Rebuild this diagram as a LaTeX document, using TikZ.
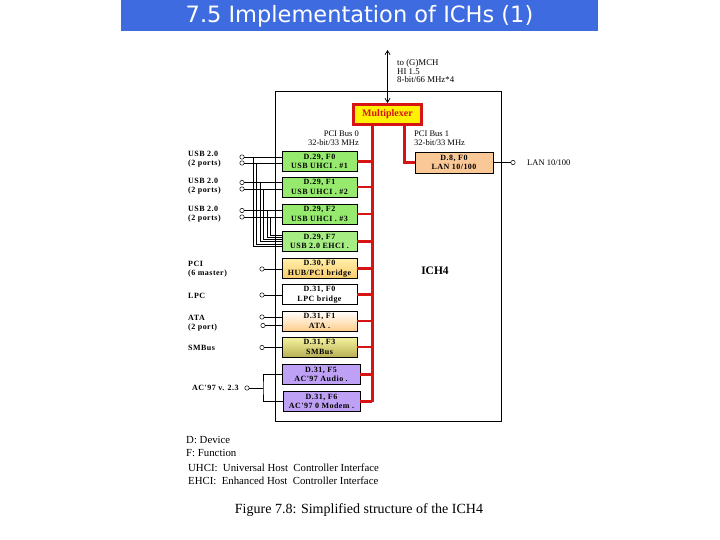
\documentclass[tikz,border=0pt]{standalone}
\usepackage{fontspec}
\setmainfont{Liberation Serif}
\newfontfamily\titlefont{DejaVu Sans}
\newfontfamily\boxfont[LetterSpace=6]{Liberation Serif}
\usetikzlibrary{arrows.meta}
\definecolor{titleblue}{RGB}{62,108,224}
\definecolor{busred}{RGB}{215,20,20}
\definecolor{usbgreen}{RGB}{150,235,110}
\definecolor{lavender}{RGB}{190,160,245}
\definecolor{peach}{RGB}{250,200,150}
\definecolor{hubtop}{RGB}{255,238,170}
\definecolor{hubbot}{RGB}{250,205,110}
\definecolor{atabot}{RGB}{255,205,140}
\definecolor{smtop}{RGB}{245,245,160}
\definecolor{smbot}{RGB}{185,175,85}
\tikzset{
  fbox/.style={draw, line width=0.6pt, minimum width=75pt, minimum height=20pt, inner sep=0pt,
    align=center, font=\boxfont\bfseries\fontsize{8}{9.5}\selectfont},
  port/.style={circle, draw, line width=0.5pt, inner sep=0pt, minimum size=4.4pt, fill=white},
  lbl/.style={anchor=west, align=left, inner sep=0pt, font=\boxfont\bfseries\fontsize{8}{9}\selectfont},
  small/.style={inner sep=0pt, font=\fontsize{8.5}{9}\selectfont},
  wire/.style={line width=0.6pt},
  bus/.style={busred, line width=3pt},
  stub/.style={busred, line width=2.5pt},
  legend/.style={anchor=west, inner sep=0pt, font=\fontsize{10.8}{12}\selectfont},
}
\begin{document}
\begin{tikzpicture}[x=1pt,y=-1pt]
\useasboundingbox (0,0) rectangle (720,540);
% title
\fill[titleblue] (121,0) rectangle (598,31);
\node[text=white, font=\titlefont\fontsize{22.5}{24}\selectfont] (title) at (359.5,16) {7.5 Implementation of ICHs (1)};
% ICH4 frame
\draw[line width=1pt] (275,92) rectangle (501,421);
\node[font=\bfseries\fontsize{11.5}{12}\selectfont] (ich) at (435,271) {ICH4};
% multiplexer
\node[draw=busred, line width=3pt, fill=yellow, minimum width=68pt, minimum height=20pt, inner sep=0pt,
  text=busred, font=\bfseries\fontsize{10}{12}\selectfont] (mux) at (387.5,114.5) {Multiplexer};
\coordinate (hitop) at (387.5,50);
\draw[line width=0.7pt, {Straight Barb[length=4pt,width=5pt]}-{Straight Barb[length=4pt,width=5pt]}] (hitop) -- (mux.north);
\node[small, anchor=west, align=left, font=\fontsize{8.8}{8.5}\selectfont] (hil) at (397,71) {to (G)MCH\\HI 1.5\\8-bit/66 MHz*4};
% PCI bus labels
\node[small, anchor=east, align=right] (pb0) at (359,138) {PCI Bus 0\\32-bit/33 MHz};
\node[small, anchor=west, align=left] (pb1) at (414,138) {PCI Bus 1\\32-bit/33 MHz};
% function boxes
\node[fbox, fill=usbgreen] (b1) at (319.5,161.5) {D.29, F0\\USB UHCI . \#1};
\node[fbox, fill=usbgreen] (b2) at (319.5,187) {D.29, F1\\USB UHCI . \#2};
\node[fbox, fill=usbgreen] (b3) at (319.5,214) {D.29, F2\\USB UHCI . \#3};
\node[fbox, fill=usbgreen!85!white] (b4) at (319.5,241.5) {D.29, F7\\USB 2.0 EHCI .};
\node[fbox, top color=hubtop, bottom color=hubbot, draw=black] (b5) at (319.5,268.5) {D.30, F0\\HUB/PCI bridge};
\node[fbox, fill=white] (b6) at (319.5,294.5) {D.31, F0\\LPC bridge};
\node[fbox, top color=white, bottom color=atabot, draw=black] (b7) at (319.5,321) {D.31, F1\\ATA .};
\node[fbox, top color=smtop, bottom color=smbot, draw=black] (b8) at (319.5,347) {D.31, F3\\SMBus};
\node[fbox, fill=lavender, minimum width=78pt] (b9) at (321,374.5) {D.31, F5\\AC'97 Audio .};
\node[fbox, fill=lavender, minimum width=77pt] (b10) at (321.5,401.5) {D.31, F6\\AC'97 0 Modem .};
\node[fbox, fill=peach, minimum width=78pt, minimum height=21pt] (lan) at (454,162.5) {D.8, F0\\LAN 10/100};
% red buses
\coordinate (busA) at (372,124.5);
\coordinate (busB) at (404,124.5);
\draw[bus] (busA) -- (372,401.5);
\draw[bus] (busB) |- (lan.west);
\foreach \b in {b1,b2,b3,b4,b5,b6,b7,b8,b9,b10}
  \draw[stub] (\b.east) -- (\b.east -| busA);
% LAN port
\node[port] (lanp) at (513,162.5) {};
\draw[wire] (lan.east) -- (lanp);
\node[small, anchor=west] (lanl) at (527,162.5) {LAN 10/100};
% left labels
\node[lbl] (l1) at (188,159.5) {USB 2.0\\(2 ports)};
\node[lbl] (l2) at (188,186.2) {USB 2.0\\(2 ports)};
\node[lbl] (l3) at (188,214.2) {USB 2.0\\(2 ports)};
\node[lbl] (l4) at (188,269) {PCI\\(6 master)};
\node[lbl] (l5) at (188,296) {LPC};
\node[lbl] (l6) at (188,323.5) {ATA\\(2 port)};
\node[lbl] (l7) at (188,348) {SMBus};
\node[lbl] (l8) at (192,388) {AC'97 v. 2.3};
% USB ports and wiring
\node[port] (u1a) at (242,157) {};
\node[port] (u1b) at (242,163) {};
\node[port] (u2a) at (242,182.5) {};
\node[port] (u2b) at (242,189) {};
\node[port] (u3a) at (242,210.5) {};
\node[port] (u3b) at (242,217) {};
\draw[wire] (u1a.east) -- (b1.west |- u1a);
\draw[wire] (u1b.east) -- (b1.west |- u1b);
\draw[wire] (u2a.east) -- (b2.west |- u2a);
\draw[wire] (u2b.east) -- (b2.west |- u2b);
\draw[wire] (u3a.east) -- (b3.west |- u3a);
\draw[wire] (u3b.east) -- (b3.west |- u3b);
\draw[wire] (u1a -| 253,0) |- (b4.west |- 0,246);
\draw[wire] (u1b -| 256.5,0) |- (b4.west |- 0,243.8);
\draw[wire] (u2a -| 260,0) |- (b4.west |- 0,241.6);
\draw[wire] (u2b -| 263.5,0) |- (b4.west |- 0,239.4);
\draw[wire] (u3a -| 267,0) |- (b4.west |- 0,237.2);
\draw[wire] (u3b -| 270.5,0) |- (b4.west |- 0,235);
% other ports
\node[port] (pcip) at (262,269) {};
\draw[wire] (pcip.east) -- (b5.west |- pcip);
\node[port] (lpcp) at (262,295) {};
\draw[wire] (lpcp.east) -- (b6.west |- lpcp);
\node[port] (ata1) at (262,317) {};
\node[port] (ata2) at (263,325.5) {};
\draw[wire] (ata1.east) -- (b7.west |- ata1);
\draw[wire] (ata2.east) -- (b7.west |- ata2);
\node[port] (smp) at (262,347.5) {};
\draw[wire] (smp.east) -- (b8.west |- smp);
\node[port] (acp) at (247,388) {};
\coordinate (acj) at (263,388);
\draw[wire] (acp.east) -- (acj);
\draw[wire] (b9.west) -| (acj) |- (b10.west);
% legend
\node[legend] (lg1) at (186,440) {D: Device};
\node[legend] (lg2) at (186,453) {F: Function};
\node[legend] (lg3) at (188,468) {UHCI:\ \ Universal Host\ \ Controller Interface};
\node[legend] (lg4) at (188,481) {EHCI:\ \ Enhanced Host\ \ Controller Interface};
\node[inner sep=0pt, font=\fontsize{14}{16}\selectfont] (cap) at (359,510) {Figure 7.8: Simplified structure of the ICH4};
\end{tikzpicture}
\end{document}
